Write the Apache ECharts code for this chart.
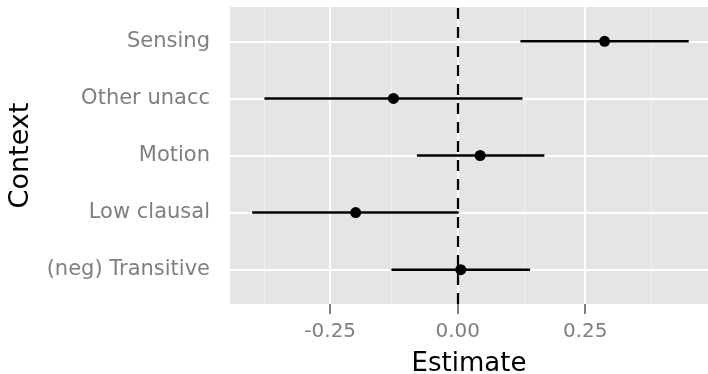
<!DOCTYPE html>
<html>
<head>
<meta charset="utf-8">
<script src="https://cdn.jsdelivr.net/npm/echarts@6/dist/echarts.min.js"></script>
<style>
  html, body { margin: 0; padding: 0; background: #ffffff; }
  #chart { width: 708px; height: 374px; }
</style>
</head>
<body>
<div id="chart"></div>
<script>
// Contexts listed from bottom row to top row
const contexts = ['(neg) Transitive', 'Low clausal', 'Motion', 'Other unacc', 'Sensing'];
const estimates = [0.006, -0.200, 0.044, -0.126, 0.288];
const lowerCI = [-0.130, -0.403, -0.080, -0.379, 0.123];
const upperCI = [0.142, 0.002, 0.170, 0.127, 0.453];

const xTicks = [-0.25, 0, 0.25];
const xMinorTicks = [-0.375, -0.125, 0.125, 0.375];
const rowPositions = contexts.map((_, i) => i + 1);

const FONT = 'DejaVu Sans';
const GREY = '#7f7f7f';

const chart = echarts.init(document.getElementById('chart'), null, { renderer: 'canvas' });

const intervalData = contexts.map((c, i) => [lowerCI[i], upperCI[i], i + 1]);
const pointData = contexts.map((c, i) => [estimates[i], i + 1]);

chart.setOption({
  animation: false,
  backgroundColor: '#ffffff',
  grid: {
    left: 230, right: 0, top: 7, bottom: 70,
    containLabel: false,
    outerBoundsMode: 'none',
    show: true, backgroundColor: '#e5e5e5', borderWidth: 0
  },
  xAxis: {
    type: 'value',
    min: -0.4465, max: 0.4908,
    name: 'Estimate',
    nameLocation: 'middle',
    nameGap: 47,
    nameTextStyle: { fontFamily: FONT, fontSize: 26, color: '#000' },
    axisLine: { show: false },
    axisTick: { show: true, customValues: xTicks, length: 10, lineStyle: { color: GREY, width: 2 } },
    axisLabel: {
      customValues: xTicks, margin: 18,
      fontFamily: FONT, fontSize: 20, color: GREY,
      formatter: v => (v < 0 ? '-' : '') + Math.abs(v).toFixed(2)
    },
    splitLine: { show: false }
  },
  yAxis: {
    type: 'value',
    min: 0.4, max: 5.6,
    name: 'Context',
    nameLocation: 'middle',
    nameGap: 196,
    nameRotate: 90,
    nameTextStyle: { fontFamily: FONT, fontSize: 27, color: '#000' },
    axisLine: { show: false },
    axisTick: { show: true, customValues: rowPositions, length: 10, lineStyle: { color: GREY, width: 2 } },
    axisLabel: {
      customValues: rowPositions, margin: 20,
      fontFamily: FONT, fontSize: 21, color: GREY,
      formatter: v => contexts[Math.round(v) - 1]
    },
    splitLine: { show: false }
  },
  series: [
    {
      // panel grid lines
      type: 'line',
      data: [],
      silent: true,
      z: 1,
      markLine: {
        z: 1,
        silent: true,
        symbol: 'none',
        label: { show: false },
        animation: false,
        data: [
          ...xMinorTicks.map(v => ({ xAxis: v, lineStyle: { color: '#f2f2f2', width: 1, type: 'solid' } })),
          ...xTicks.map(v => ({ xAxis: v, lineStyle: { color: '#ffffff', width: 2, type: 'solid' } })),
          ...rowPositions.map(v => ({ yAxis: v, lineStyle: { color: '#ffffff', width: 2, type: 'solid' } }))
        ]
      }
    },
    {
      // confidence intervals
      type: 'custom',
      z: 10,
      data: intervalData,
      renderItem: (params, api) => {
        const a = api.coord([api.value(0), api.value(2)]);
        const b = api.coord([api.value(1), api.value(2)]);
        return {
          type: 'line',
          shape: { x1: a[0], y1: a[1], x2: b[0], y2: b[1] },
          style: { stroke: '#000', lineWidth: 2.5 }
        };
      }
    },
    {
      type: 'scatter',
      z: 12,
      data: pointData,
      symbol: 'circle',
      symbolSize: 11,
      itemStyle: { color: '#000', opacity: 1 },
      markLine: {
        z: 8,
        silent: true,
        symbol: 'none',
        label: { show: false },
        animation: false,
        lineStyle: { color: '#000', width: 2.2, type: [11, 8] },
        data: [{ xAxis: 0 }]
      }
    }
  ]
});
</script>
</body>
</html>
